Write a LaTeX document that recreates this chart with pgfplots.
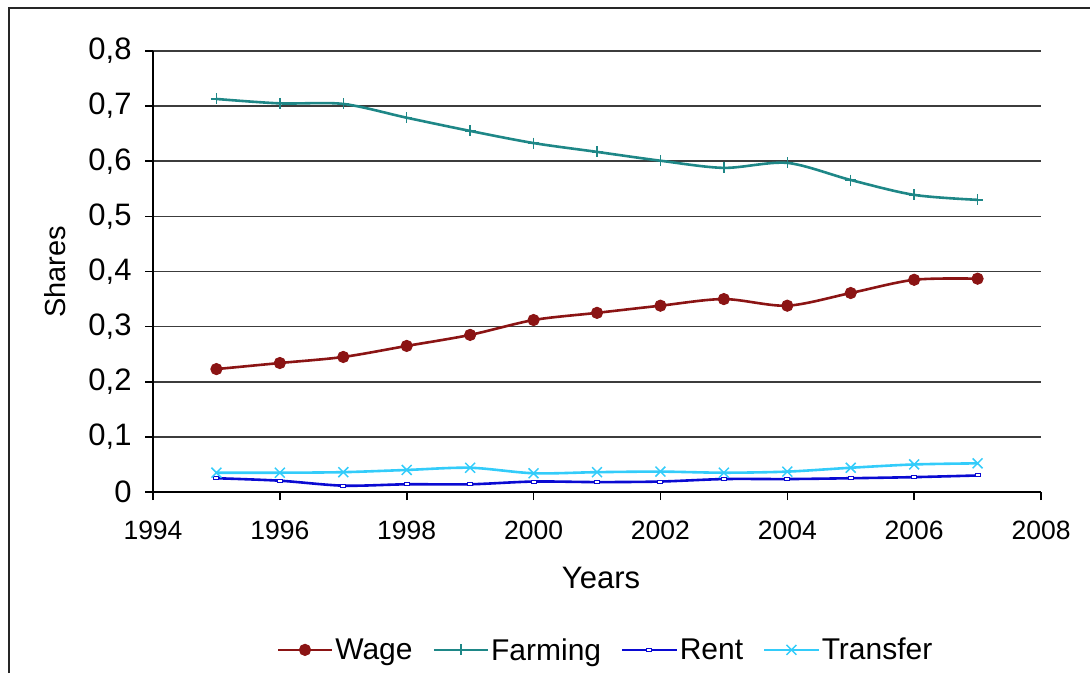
\documentclass[border=0pt]{standalone}
\usepackage{pgfplots}
\pgfplotsset{compat=1.18}
\usepackage{fontspec}
\setmainfont{Liberation Sans}
\definecolor{wagec}{RGB}{139,20,20}
\definecolor{farmc}{RGB}{30,135,135}
\definecolor{rentc}{RGB}{10,10,210}
\definecolor{transc}{RGB}{51,204,250}
\definecolor{gridc}{RGB}{60,60,60}
\begin{document}
\begin{tikzpicture}
\useasboundingbox (0pt,0pt) rectangle (1090pt,-673pt);
\draw[line width=2pt,black!85] (9pt,-673pt) -- (9pt,-8pt) -- (1090pt,-8pt);
\begin{axis}[
  at={(153pt,-492pt)}, anchor=south west,
  scale only axis, width=888pt, height=441pt,
  xmin=1994, xmax=2008, ymin=0, ymax=0.8,
  xtick={1994,1996,...,2008},
  ytick={0,0.1,...,0.8},
  axis x line=bottom, axis y line=left,
  axis line style={-, line width=1.6pt, black},
  tick style={line width=1.6pt, black},
  tick align=outside, major tick length=8pt,
  ymajorgrids, grid style={line width=1.6pt, gridc},
  font=\fontsize{29}{34}\selectfont,
  /pgf/number format/assume math mode=true,
  /pgf/number format/use comma,
  /pgf/number format/1000 sep={},
  yticklabel style={xshift=-10pt, font=\fontsize{31}{36}\selectfont},
  xticklabel style={yshift=-17pt, font=\fontsize{26.5}{31}\selectfont},
  xlabel={Years}, ylabel={Shares},
  xlabel style={at={(axis description cs:0.5045,-0.195)}, anchor=center, font=\fontsize{31}{36}\selectfont},
  ylabel style={at={(axis description cs:-0.11,0.499)}, anchor=center, rotate=0, font=\fontsize{29}{34}\selectfont},
  legend columns=4,
  legend style={at={(axis description cs:0.5096,-0.358)}, anchor=center, draw=none, fill=none,
    font=\fontsize{30}{35}\selectfont,
    /tikz/every even column/.append style={column sep=18pt}},
  legend image code/.code={\draw[mark repeat=2,mark phase=2] plot coordinates {(0pt,0pt) (27pt,0pt) (54pt,0pt)};},
  every axis plot/.append style={smooth, tension=0.5, line width=2.6pt},
  clip=false,
]
\addplot[wagec, mark=*, mark size=5.6pt, mark options={solid, line width=1pt}] coordinates {
(1995,0.223) (1996,0.234) (1997,0.245) (1998,0.265) (1999,0.285) (2000,0.312) (2001,0.325)
(2002,0.338) (2003,0.350) (2004,0.338) (2005,0.361) (2006,0.385) (2007,0.387)};
\addlegendentry{Wage}
\addplot[farmc, mark=+, mark size=5.5pt, mark options={line width=1.5pt}] coordinates {
(1995,0.713) (1996,0.705) (1997,0.704) (1998,0.679) (1999,0.655) (2000,0.633) (2001,0.617)
(2002,0.601) (2003,0.588) (2004,0.597) (2005,0.566) (2006,0.539) (2007,0.530)};
\addlegendentry{Farming}
\addplot[rentc, mark=square*, mark size=2.5pt, mark options={line width=1pt, fill=white, yscale=0.6}] coordinates {
(1995,0.025) (1996,0.0205) (1997,0.0115) (1998,0.014) (1999,0.014) (2000,0.019) (2001,0.018)
(2002,0.019) (2003,0.0235) (2004,0.0235) (2005,0.025) (2006,0.027) (2007,0.030)};
\addlegendentry{Rent}
\addplot[transc, mark=x, mark size=7pt, mark options={line width=1.5pt}] coordinates {
(1995,0.035) (1996,0.035) (1997,0.036) (1998,0.040) (1999,0.044) (2000,0.034) (2001,0.036)
(2002,0.037) (2003,0.035) (2004,0.037) (2005,0.044) (2006,0.050) (2007,0.052)};
\addlegendentry{Transfer}
\end{axis}
\end{tikzpicture}
\end{document}
